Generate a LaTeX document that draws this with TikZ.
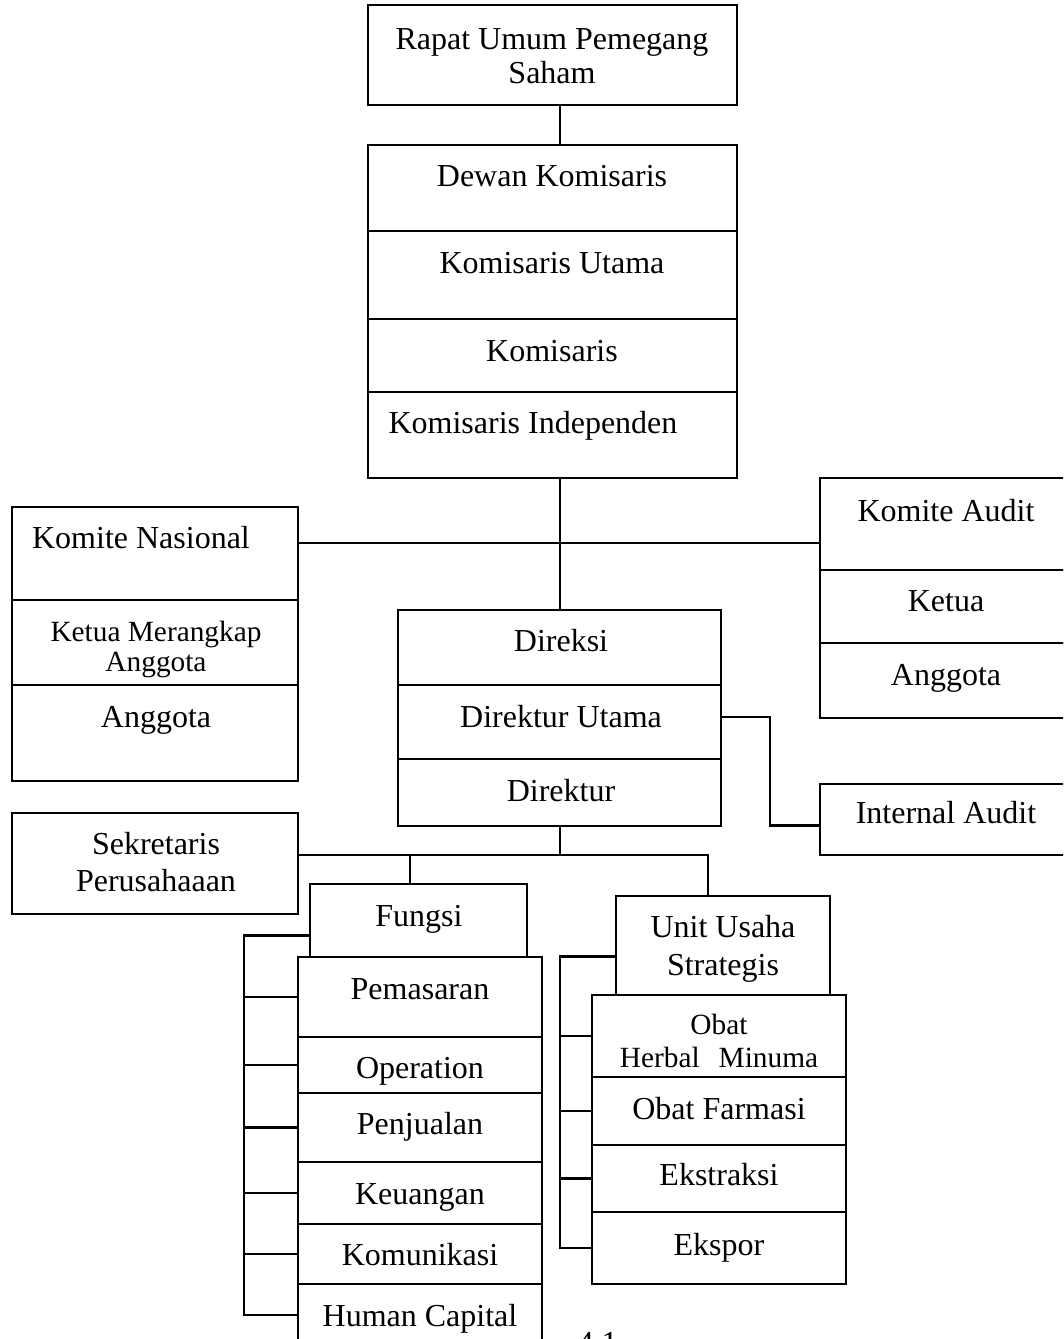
\documentclass[tikz,border=0pt]{standalone}
\usepackage{fontspec}
\setmainfont{Liberation Serif}
\usetikzlibrary{fit,calc}

\tikzset{
  cell/.style={draw, line width=0.9pt, inner sep=0pt, outer sep=0pt},
  link/.style={line width=0.9pt},
  lbl/.style={anchor=base, inner sep=0pt, font=\fontsize{12}{14}\selectfont},
  lblsm/.style={lbl, font=\fontsize{11}{13}\selectfont}
}

\begin{document}
\begin{tikzpicture}[x=0.375pt,y=-0.375pt]
  \clip (0,0) rectangle (1063,1339);
  \coordinate (spine) at (560,0);
  \coordinate (bar) at (0,543);
  \coordinate (bar2) at (0,855);
  \coordinate (iabend) at (770,0);
  \coordinate (fdrop) at (410,0);
  \coordinate (udrop) at (708,0);
  \coordinate (fbr) at (244,0);
  \coordinate (ubr) at (560,0);

  % rapat umum
  \node[cell, fit={(368,5) (737,105)}] (rups) {};
  \node[lbl] (rups-t1) at (552,49) {Rapat Umum Pemegang};
  \node[lbl] (rups-t2) at (552,83) {Saham};

  % dewan komisaris
  \foreach \nm/\ya/\yb/\tx/\ty/\txt in {dk/145/231/552/186/Dewan Komisaris,
      ku/231/319/552/273/Komisaris Utama, ko/319/392/552/361/Komisaris,
      ki/392/478/533/433/Komisaris Independen} {
    \node[cell, fit={(368,\ya) (737,\yb)}] (\nm) {};
    \node[lbl] (\nm-t) at (\tx,\ty) {\txt};
  }

  % komite nasional
  \node[cell, fit={(12,507) (298,600)}] (kn) {};
  \node[lbl] (kn-t) at (141,548) {Komite Nasional};
  \node[cell, fit={(12,600) (298,685)}] (km) {};
  \node[lblsm] (km-t1) at (156,641) {Ketua Merangkap};
  \node[lblsm] (km-t2) at (156,671) {Anggota};
  \node[cell, fit={(12,685) (298,781)}] (kna) {};
  \node[lbl] (kna-t) at (156,727) {Anggota};

  % komite audit
  \foreach \nm/\ya/\yb/\ty/\txt in {ka/478/570/521/Komite Audit,
      kk/570/643/611/Ketua, kag/643/718/685/Anggota} {
    \node[cell, fit={(820,\ya) (1075,\yb)}] (\nm) {};
    \node[lbl] (\nm-t) at (946,\ty) {\txt};
  }

  % direksi
  \foreach \nm/\ya/\yb/\ty/\txt in {dir/610/685/651/Direksi,
      du/685/759/727/Direktur Utama, dr/759/826/801/Direktur} {
    \node[cell, fit={(398,\ya) (721,\yb)}] (\nm) {};
    \node[lbl] (\nm-t) at (561,\ty) {\txt};
  }

  \node[cell, fit={(820,784) (1075,855)}] (ia) {};
  \node[lbl] (ia-t) at (946,823) {Internal Audit};

  \node[cell, fit={(12,813) (298,914)}] (sp) {};
  \node[lbl] (sp-t1) at (156,854) {Sekretaris};
  \node[lbl] (sp-t2) at (156,891) {Perusahaaan};

  % fungsi
  \node[cell, fit={(310,884) (527,957)}] (fungsi) {};
  \node[lbl] (fungsi-t) at (419,926) {Fungsi};
  \foreach \nm/\ya/\yb/\ty/\txt in {pm/957/1037/999/Pemasaran,
      op/1037/1093/1078/Operation, pj/1093/1162/1134/Penjualan,
      keu/1162/1224/1204/Keuangan, kom/1224/1284/1265/Komunikasi,
      hc/1284/1346/1326/Human Capital} {
    \node[cell, fit={(298,\ya) (542,\yb)}] (\nm) {};
    \node[lbl] (\nm-t) at (420,\ty) {\txt};
  }

  % unit usaha strategis
  \node[cell, fit={(616,896) (830,995)}] (uus) {};
  \node[lbl] (uus-t1) at (723,937) {Unit Usaha};
  \node[lbl] (uus-t2) at (723,975) {Strategis};
  \node[cell, fit={(592,995) (846,1077)}] (ob) {};
  \node[lblsm] (ob-t1) at (719,1034) {Obat};
  \node[lblsm] (ob-t2) at (719,1067) {Herbal\hspace{0.65em}Minuma};
  \foreach \nm/\ya/\yb/\ty/\txt in {of/1077/1145/1119/Obat Farmasi,
      ek/1145/1212/1185/Ekstraksi, ex/1212/1284/1255/Ekspor} {
    \node[cell, fit={(592,\ya) (846,\yb)}] (\nm) {};
    \node[lbl] (\nm-t) at (719,\ty) {\txt};
  }

  \node[lbl, anchor=base west] (capnum) at (577,1353) {4.1};

  % connectors
  \draw[link] (rups.south -| spine) -- (dk.north -| spine);
  \draw[link] (ki.south -| spine) -- (dir.north -| spine);
  \draw[link] (kn.east |- bar) -- (ka.west |- bar);
  \draw[link] ($(du.east)+(0,-5)$) -| ($(iabend |- ia.west)+(0,6)$) -- ($(ia.west)+(0,6)$);
  \draw[link] (dr.south -| spine) -- (spine |- bar2);
  \draw[link] (sp.east |- bar2) -| (udrop |- uus.north);
  \draw[link] (fdrop |- bar2) -- (fdrop |- fungsi.north);
  \draw[link] ($(fungsi.west)+(0,15)$) -| (fbr |- hc.west) -- (hc.west);
  \foreach \nm in {pm,op,pj,keu,kom}
    \draw[link] (\nm.west) -- (fbr |- \nm.west);
  \draw[link] ($(uus.west)+(0,11)$) -| (ubr |- ex.west) -- (ex.west);
  \foreach \nm in {ob,of,ek}
    \draw[link] (\nm.west) -- (ubr |- \nm.west);
\end{tikzpicture}
\end{document}
